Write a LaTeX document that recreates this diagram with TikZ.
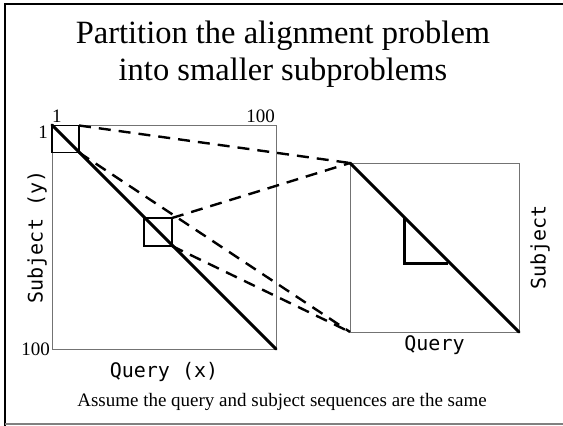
\documentclass[tikz,border=0pt]{standalone}
\usepackage{fontspec}
\setmainfont{Liberation Serif}
\newfontfamily\monofont{DejaVu Sans Mono}
\usetikzlibrary{positioning,calc}

\begin{document}
\begin{tikzpicture}[
        x=1pt, y=-1pt,
        grid/.style={rectangle, draw=black!55, line width=0.9pt, inner sep=0pt, outer sep=0pt},
        block/.style={rectangle, draw=black, line width=1.6pt, inner sep=0pt, outer sep=0pt},
        diag/.style={line width=3pt, line cap=round},
        link/.style={line width=2.4pt, dash pattern=on 12pt off 8pt},
        axis/.style={font=\monofont\fontsize{20}{22}\selectfont},
        tick/.style={font=\fontsize{19}{21}\selectfont, inner sep=1pt},
      ]
      \useasboundingbox (0,0) rectangle (563,426);
      % slide frame
      \draw [line width=2pt] (5,426) -- (5,4) -- (563,4);
      \draw [black!50, line width=1.2pt] (5,424) -- (563,424);
      % title
      \node [font=\fontsize{32.5}{37}\selectfont, align=center] (title) at (283,54) {Partition the alignment problem\\into smaller subproblems};
      % full matrix
      \node [grid, minimum size=224pt] (big) at (164,237) {};
      \node [block, minimum size=27pt] (first) at (65.5,139) {};
      \node [block, minimum size=28pt] (middle) at (158,232) {};
      \draw [diag] (big.north west) -- (big.south east);
      \node [tick, anchor=south west] (xone) at ($(big.north west)+(-1,-1)$) {1};
      \node [tick, anchor=south east] (xend) at ($(big.north east)+(0,-1)$) {100};
      \node [tick, anchor=east] (yone) at ($(big.north west)+(-3,7)$) {1};
      \node [tick, anchor=east] (yend) at ($(big.south west)+(-1,0)$) {100};
      \node [axis, rotate=90] (subj) at (37,237) {Subject (y)};
      \node [axis] (qry) at (164,372) {Query (x)};
      % sub matrix
      \node [grid, minimum size=169pt] (zoom) at (434.5,247.5) {};
      \draw [diag] (zoom.north west) -- (zoom.south east);
      \coordinate (ttop) at (404,217);
      \coordinate (tcorner) at (404,263);
      \coordinate (tright) at (448,263);
      \draw [line width=3pt] (ttop) -- (tcorner) -- (tright);
      \node [axis, below=0pt of zoom] (qry2) {Query};
      \node [axis, rotate=90] (subj2) at (540,247.5) {Subject};
      % dashed links
      \draw [link] (first.north east) -- (zoom.north west);
      \draw [link] (first.south east) -- (zoom.south west);
      \draw [link] (middle.north east) -- (zoom.north west);
      \draw [link] (middle.south east) -- (zoom.south west);
      % caption
      \node [font=\fontsize{19}{22}\selectfont] (note) at (282,402) {Assume the query and subject sequences are the same};
    \end{tikzpicture}
\end{document}
